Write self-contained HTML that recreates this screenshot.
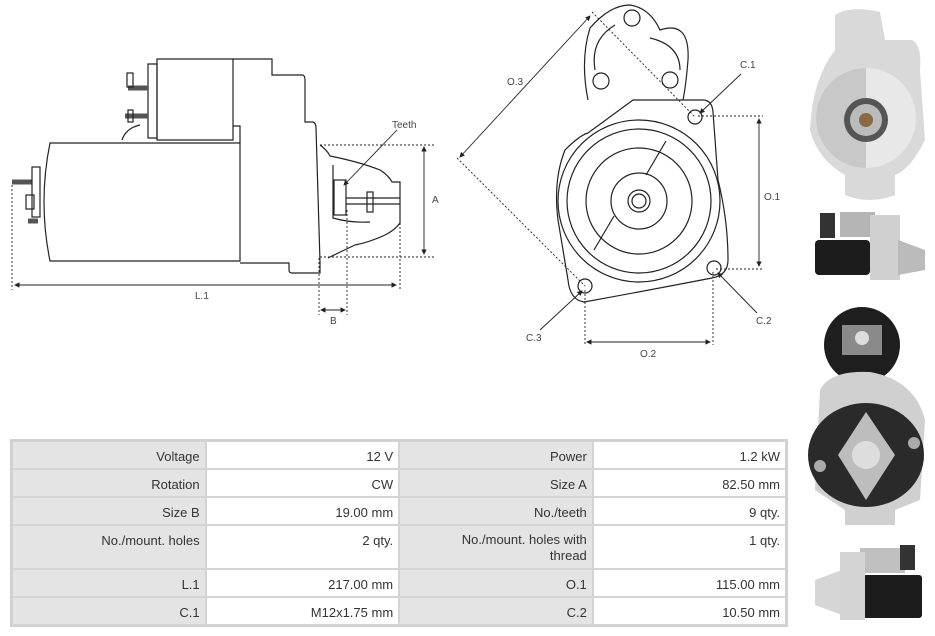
<!DOCTYPE html>
<html><head><meta charset="utf-8"><style>
body{margin:0;width:935px;height:636px;background:#fff;overflow:hidden;position:relative;font-family:"Liberation Sans",sans-serif}
svg{position:absolute;left:0;top:0}
table{position:absolute;left:10px;top:439px;border-collapse:separate;border-spacing:0;width:778px;border:2px solid #d0d0d0;font-size:13px;color:#333}
td{text-align:right;vertical-align:top;padding:7px 5px 0 5px;border:1.5px solid #d4d4d4;height:19px;box-sizing:content-box}
td.l{background:#e4e4e4}
td.v{background:#fff}
</style></head><body>
<svg width="935" height="636" viewBox="0 0 935 636" fill="none" stroke="#222" stroke-width="1.2" font-family="Liberation Sans, sans-serif" font-size="10">
<defs><marker id="a" markerWidth="6" markerHeight="6" refX="5" refY="3" orient="auto-start-reverse"><path d="M0,0L6,3L0,6z" fill="#222" stroke="none"/></marker></defs>
<path d="M50,143 H240 V261 H50 Q38,202 50,143Z"/>
<path d="M233,59 H272 V75 H303 Q305,76 305,80 V122 H313 Q316,123 316,128 L320,262 V273 H292 Q289,273 289,270 V263 H240"/>
<path d="M157,59 H233 V140 H157Z"/>
<path d="M148,64 H157 V138 H148Z"/>
<path d="M233,126 H240 V143"/>
<path d="M128,88 H148 M125,116 H148" stroke-width="5" stroke="#555"/>
<rect x="127" y="73" width="6" height="14"/><rect x="128" y="110" width="5" height="12"/>
<path d="M122,140 Q126,128 140,125"/>
<path d="M12,182 H32" stroke-width="5" stroke="#555"/><rect x="32" y="167" width="8" height="50"/>
<rect x="26" y="195" width="8" height="14"/><path d="M28,221 H38" stroke-width="5" stroke="#555"/>
<path d="M320,145 Q327,150 330,156 Q360,162 380,170 Q388,175 392,182 H400 V223 Q395,230 385,235 Q370,242 355,245 Q340,252 328,258"/>
<path d="M333,165 V218 Q350,223 370,222"/>
<rect x="334" y="180" width="12" height="35"/><rect x="367" y="192" width="6" height="20"/><path d="M346,198 H400 M346,204 H400"/>
<g stroke-dasharray="2,2" stroke-width="0.9">
<path d="M12,185 V290 M400,203 V290 M320,145 H436 M320,257 H436 M319,258 V315 M347,210 V315"/>
</g>
<g stroke-width="0.9"><path d="M15,285 H396" marker-start="url(#a)" marker-end="url(#a)"/>
<path d="M424,147 V254" marker-start="url(#a)" marker-end="url(#a)"/>
<path d="M321,310 H345" marker-start="url(#a)" marker-end="url(#a)"/>
<path d="M397,130 L344,185" marker-end="url(#a)"/></g>
<g fill="#444" stroke="none"><text x="195" y="299">L.1</text><text x="330" y="324">B</text><text x="432" y="203">A</text><text x="392" y="128">Teeth</text></g>
<path d="M588,100 Q580,60 590,28 Q610,5 630,5 Q650,8 660,30 Q690,20 688,60 Q686,85 683,100"/>
<path d="M595,70 Q590,40 615,25 M650,38 Q680,45 680,70"/>
<circle cx="632" cy="18" r="8"/><circle cx="601" cy="81" r="8"/><circle cx="670" cy="80" r="8"/>
<path d="M633,100 H703 Q712,100 713,112 L718,180 Q728,220 728,260 Q728,275 712,278 Q650,290 584,302 Q570,300 568,280 L558,220 Q553,180 565,150 Q580,135 588,133 Z"/>
<circle cx="639" cy="201" r="81"/><circle cx="639" cy="201" r="72"/><circle cx="639" cy="201" r="53"/>
<circle cx="639" cy="201" r="28"/><circle cx="639" cy="201" r="11"/><circle cx="639" cy="201" r="7"/>
<path d="M666,141 L646,175 M614,216 L594,250"/>
<circle cx="695" cy="117" r="7"/><circle cx="714" cy="268" r="7"/><circle cx="585" cy="286" r="7"/>
<g stroke-dasharray="2,2" stroke-width="0.9">
<path d="M592,12 L695,117 M457,158 L585,286 M698,116 H763 M716,269 H763 M585,290 V345 M713,272 V345"/></g>
<g stroke-width="0.9">
<path d="M460,157 L590,16" marker-start="url(#a)" marker-end="url(#a)"/>
<path d="M759,119 V266" marker-start="url(#a)" marker-end="url(#a)"/>
<path d="M587,342 H710" marker-start="url(#a)" marker-end="url(#a)"/>
<path d="M741,74 L700,113" marker-end="url(#a)"/><path d="M757,313 L718,273" marker-end="url(#a)"/><path d="M540,330 L582,291" marker-end="url(#a)"/></g>
<g fill="#444" stroke="none"><text x="507" y="85">O.3</text><text x="740" y="68">C.1</text><text x="764" y="200">O.1</text><text x="756" y="324">C.2</text><text x="640" y="357">O.2</text><text x="526" y="341">C.3</text></g>
<g stroke="none">
<path d="M835,15 Q850,5 880,12 L885,40 H912 Q922,45 920,70 L925,140 Q910,170 895,175 V195 Q870,205 845,195 V175 Q818,160 810,130 Q812,80 835,50Z" fill="#d9d9d9"/>
<circle cx="866" cy="118" r="50" fill="#e8e8e8"/><path d="M866,68 A50,50 0 0 0 866,168Z" fill="#c8c8c8"/>
<circle cx="866" cy="120" r="22" fill="#555"/><circle cx="866" cy="120" r="16" fill="#bbb"/><circle cx="866" cy="120" r="7" fill="#8a6a40"/>
<rect x="815" y="240" width="55" height="35" rx="4" fill="#1c1c1c"/>
<rect x="840" y="212" width="35" height="25" fill="#b5b5b5"/><rect x="870" y="215" width="30" height="65" fill="#d0d0d0"/>
<path d="M898,240 L925,250 V270 L898,275Z" fill="#bbb"/><rect x="820" y="213" width="15" height="25" fill="#333"/>
<circle cx="862" cy="345" r="38" fill="#1e1e1e"/><rect x="842" y="325" width="40" height="30" fill="#8a8a8a"/><circle cx="862" cy="338" r="7" fill="#ddd"/>
<path d="M820,390 Q830,370 870,372 Q915,380 925,420 L920,500 L895,510 V525 H845 V510 L815,490Z" fill="#d0d0d0"/>
<ellipse cx="866" cy="455" rx="58" ry="52" fill="#2a2a2a"/>
<path d="M866,412 L895,455 L866,500 L838,455Z" fill="#bdbdbd"/><circle cx="866" cy="455" r="14" fill="#ddd"/>
<circle cx="820" cy="466" r="6" fill="#aaa"/><circle cx="914" cy="443" r="6" fill="#aaa"/>
<rect x="862" y="575" width="60" height="43" rx="3" fill="#1c1c1c"/>
<rect x="860" y="548" width="45" height="25" fill="#c0c0c0"/><rect x="900" y="545" width="15" height="25" fill="#333"/>
<path d="M815,580 L842,570 V615 L815,605Z" fill="#d6d6d6"/><rect x="840" y="552" width="25" height="68" fill="#d4d4d4"/>
</g>
</svg>
<table>
<tr><td class="l" style="width:184px">Voltage</td><td class="v" style="width:184px">12 V</td><td class="l" style="width:184px">Power</td><td class="v" style="width:184px">1.2 kW</td></tr>
<tr><td class="l">Rotation</td><td class="v">CW</td><td class="l">Size A</td><td class="v">82.50 mm</td></tr>
<tr><td class="l">Size B</td><td class="v">19.00 mm</td><td class="l">No./teeth</td><td class="v">9 qty.</td></tr>
<tr><td class="l" style="height:35px">No./mount. holes</td><td class="v">2 qty.</td><td class="l" style="line-height:16px;padding-top:6px">No./mount. holes with<br>thread</td><td class="v">1 qty.</td></tr>
<tr><td class="l">L.1</td><td class="v">217.00 mm</td><td class="l">O.1</td><td class="v">115.00 mm</td></tr>
<tr><td class="l">C.1</td><td class="v">M12x1.75 mm</td><td class="l">C.2</td><td class="v">10.50 mm</td></tr>
</table>
</body></html>
